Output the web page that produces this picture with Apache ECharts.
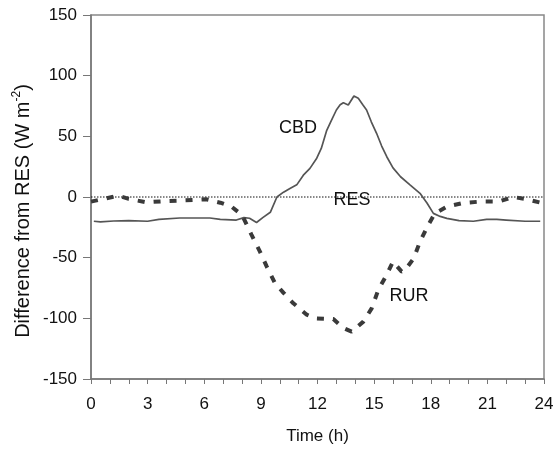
<!DOCTYPE html>
<html>
<head>
<meta charset="utf-8">
<script src="https://cdn.jsdelivr.net/npm/echarts@6/dist/echarts.min.js"></script>
<style>html,body{margin:0;padding:0;background:#fff}#c{width:555px;height:449px}</style>
</head>
<body>
<div id="c"></div>
<script>
// Time (h) and difference from RES (W m-2)
const cbdHours = [0.15,0.5,1.2,2,3,3.6,4.7,5.5,6.3,6.85,7.7,8.1,8.4,8.77,9.1,9.5,9.85,10.2,10.54,10.9,11.25,11.6,11.96,12.2,12.49,12.7,13.0,13.2,13.37,13.63,13.93,14.16,14.4,14.6,14.85,15.13,15.4,15.67,16.0,16.4,16.9,17.43,17.8,18.14,18.5,18.85,19.5,20.26,20.96,21.5,22.0,23.0,23.8];
const cbdValues = [-20,-20.5,-19.8,-19.5,-20,-18.5,-17.3,-17.3,-17.3,-18.5,-19,-17,-17.5,-21,-17,-12.6,0,4,7,10,18,23.6,32,40,55,62,71.7,76,77.7,75.8,83.2,81.3,76,71.7,62,52.5,42,33.2,24,16.7,10,3,-5,-13.5,-16,-17.6,-19.5,-20,-18.4,-18.5,-19,-20,-20];
const rurHours = [0,0.7,1.45,2.0,2.95,3.8,4.7,5.4,6.1,6.85,7.45,8.0,8.5,8.95,9.3,9.75,10.2,10.72,11.43,11.87,12.84,13.37,13.81,14.43,14.87,15.22,15.67,16.0,16.46,16.6,17.1,17.43,17.87,18.22,18.85,19.7,20.6,21.6,22.37,23.1,23.9];
const rurValues = [-3.8,-1.5,1,-1.6,-4.4,-3.5,-3,-2.5,-1.9,-4.7,-8,-14.8,-31,-45,-57,-71,-79,-87.6,-97,-100,-100.6,-108,-111,-102.7,-91.8,-76.6,-64,-53.3,-61.5,-61,-50.5,-36.8,-23,-13.5,-8,-5,-3.8,-3.8,0,-1.9,-5];
const resHours = [0,24];
const resValues = [0,0];
const xTicks = [0,3,6,9,12,15,18,21,24];
const yTicks = [-150,-100,-50,0,50,100,150];

const zip = (a,b) => a.map((v,i)=>[v,b[i]]);
const FONT = 'Liberation Sans, Arial, Helvetica, sans-serif';
const chart = echarts.init(document.getElementById('c'), null, {renderer:'canvas'});
chart.setOption({
  animation:false,
  backgroundColor:'#fff',
  grid:{left:91,right:11,top:15,bottom:70,show:true,borderColor:'#888',borderWidth:1.5,
    containLabel:false,outerBoundsMode:'none'},
  xAxis:{type:'value',min:xTicks[0],max:xTicks[xTicks.length-1],interval:3,
    axisLine:{show:true,onZero:false,lineStyle:{color:'#777',width:1.5}},
    axisTick:{show:true,length:5,lineStyle:{color:'#777',width:1}},
    minorTick:{show:true,splitNumber:3,length:5,lineStyle:{color:'#777',width:1}},
    splitLine:{show:false},
    axisLabel:{margin:17,fontSize:17,color:'#111',fontFamily:FONT},
    name:'Time (h)',nameLocation:'middle',nameGap:49,
    nameTextStyle:{fontSize:17,color:'#111',fontFamily:FONT,verticalAlign:'top'}},
  yAxis:{type:'value',min:yTicks[0],max:yTicks[yTicks.length-1],interval:50,
    axisLine:{show:true,onZero:false,lineStyle:{color:'#777',width:1.5}},
    axisTick:{show:true,length:8,lineStyle:{color:'#777',width:1}},
    splitLine:{show:false},
    axisLabel:{margin:14,fontSize:17,color:'#111',fontFamily:FONT}},
  series:[
    {type:'line',data:zip(resHours,resValues),symbol:'none',
      lineStyle:{color:'#111',width:1,type:[1.5,1.5]},z:1},
    {type:'line',data:zip(cbdHours,cbdValues),symbol:'none',
      lineStyle:{color:'#555',width:1.7},z:2},
    {type:'line',data:zip(rurHours,rurValues),symbol:'none',
      lineStyle:{color:'#3a3a3a',width:4,type:[7,9],cap:'butt'},z:3}
  ],
  graphic:[
    {type:'text',x:298,y:128,style:{text:'CBD',fontSize:18,fill:'#111',fontFamily:FONT,align:'center',verticalAlign:'middle'}},
    {type:'text',x:352,y:200,style:{text:'RES',fontSize:18,fill:'#111',fontFamily:FONT,align:'center',verticalAlign:'middle'}},
    {type:'text',x:409,y:296,style:{text:'RUR',fontSize:18,fill:'#111',fontFamily:FONT,align:'center',verticalAlign:'middle'}},
    {type:'text',x:22,y:211,rotation:Math.PI/2,
      style:{text:'{a|Difference from RES (W m}{s|-2}{a|)}',align:'center',verticalAlign:'middle',fontFamily:FONT,fill:'#111',
        rich:{a:{fontSize:20,fontFamily:FONT,fill:'#111',verticalAlign:'bottom',lineHeight:23},
              s:{fontSize:12,fontFamily:FONT,fill:'#111',verticalAlign:'top',lineHeight:23,padding:[0,0,11,0]}}}}
  ]
});
</script>
</body>
</html>
